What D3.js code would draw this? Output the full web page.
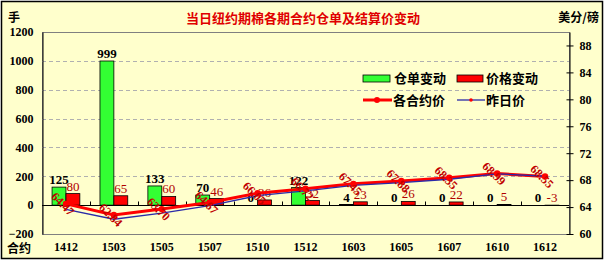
<!DOCTYPE html>
<html>
<head>
<meta charset="utf-8">
<script src="https://cdn.jsdelivr.net/npm/d3@7"></script>
<style>
  body { margin: 0; background: #fff; }
  svg { display: block; }
  .num { font-family: "Liberation Serif", serif; font-weight: bold; }
  .cjk { font-family: "Noto Sans CJK SC", sans-serif; font-weight: bold; }
</style>
</head>
<body>
<svg width="606" height="263"></svg>
<script>
// data
var categories = ['1412', '1503', '1505', '1507', '1510', '1512', '1603', '1605', '1607', '1610', '1612'];
var receiptChange = [125, 999, 133, 70, 0, 122, 4, 0, 0, 0, 0];          // 仓单变动 (手)
var priceChange = [80, 65, 60, 46, 36, 32, 23, 26, 22, 5, -3];           // 价格变动 (点)
var settlePrice = [64.47, 62.84, 63.70, 64.67, 66.05, 66.72, 67.45, 67.88, 68.35, 68.99, 68.55]; // 各合约价
var prevPrice = [63.67, 62.19, 63.10, 64.21, 65.69, 66.40, 67.22, 67.62, 68.13, 68.94, 68.58];   // 昨日价
var leftTicks = [-200, 0, 200, 400, 600, 800, 1000, 1200];
var rightTicks = [60, 64, 68, 72, 76, 80, 84, 88];

var svg = d3.select('svg'),
    plotLeft = 42, plotRight = 569, plotTop = 32, plotBottom = 234;

var x = d3.scaleBand().domain(categories).range([plotLeft, plotRight]).padding(0),
    xSub = d3.scaleBand().domain(['g', 'r']).range([x.bandwidth() * 0.21, x.bandwidth() * 0.79]),
    y = d3.scaleLinear().domain([-200, 1200]).range([plotBottom, plotTop]),
    y2 = d3.scaleLinear().domain([60, 90]).range([plotBottom, plotTop]);

// frame
svg.append('rect')
    .attr('x', 1.5).attr('y', 1.5).attr('width', 601).attr('height', 257)
    .attr('fill', '#ffffcc').attr('stroke', '#000').attr('stroke-width', 1.5);

// plot area
svg.append('rect')
    .attr('x', plotLeft + 0.5).attr('y', plotTop + 0.5)
    .attr('width', plotRight - plotLeft).attr('height', plotBottom - plotTop)
    .attr('fill', '#ffffcc').attr('stroke', '#808080').attr('stroke-width', 1);

// grid lines
svg.append('g')
    .selectAll('line')
    .data(leftTicks.filter(function(d) { return d > 0 && d < 1200; }))
    .enter().append('line')
    .attr('x1', plotLeft).attr('x2', plotRight)
    .attr('y1', function(d) { return Math.round(y(d)) + 0.5; })
    .attr('y2', function(d) { return Math.round(y(d)) + 0.5; })
    .attr('stroke', '#b0b0b0').attr('stroke-dasharray', '4,3');

// left axis
var gLeft = svg.append('g')
    .attr('transform', 'translate(' + (plotLeft + 0.5) + ',0)')
    .call(d3.axisLeft(y).tickValues(leftTicks).tickFormat(d3.format('d')).tickSize(0).tickPadding(9));
gLeft.select('.domain').attr('stroke', '#000');
gLeft.selectAll('text').attr('class', 'num').style('font-size', '12px').attr('fill', '#000');

// right axis
var gRight = svg.append('g')
    .attr('transform', 'translate(' + (plotRight + 0.5) + ',0)')
    .call(d3.axisRight(y2).tickValues(rightTicks).tickSizeInner(4).tickSizeOuter(0).tickPadding(6));
gRight.select('.domain').attr('stroke', '#000');
gRight.selectAll('.tick line').attr('x1', -3).attr('stroke', '#000');
gRight.selectAll('text').attr('class', 'num').style('font-size', '12px').attr('fill', '#000');

// category labels
var gBottom = svg.append('g')
    .attr('transform', 'translate(0,' + plotBottom + ')')
    .call(d3.axisBottom(x).tickSize(0).tickPadding(8));
gBottom.select('.domain').remove();
gBottom.selectAll('text').attr('class', 'num').style('font-size', '12px').attr('fill', '#000');

// bars
var bars = svg.append('g');
bars.selectAll('.green')
    .data(receiptChange)
    .enter().append('rect')
    .attr('x', function(d, i) { return x(categories[i]) + xSub('g'); })
    .attr('y', function(d) { return y(Math.max(0, d)); })
    .attr('width', xSub.bandwidth())
    .attr('height', function(d) { return Math.abs(y(d) - y(0)); })
    .attr('fill', '#33ff33').attr('stroke', '#000').attr('stroke-width', 0.8);

bars.selectAll('.red')
    .data(priceChange)
    .enter().append('rect')
    .attr('x', function(d, i) { return x(categories[i]) + xSub('r'); })
    .attr('y', function(d) { return y(Math.max(0, d)); })
    .attr('width', xSub.bandwidth())
    .attr('height', function(d) { return Math.abs(y(d) - y(0)); })
    .attr('fill', '#ff0000').attr('stroke', '#000').attr('stroke-width', 0.8);

// category axis line at zero
var zeroY = Math.round(y(0)) + 0.5;
svg.append('line')
    .attr('x1', plotLeft).attr('x2', plotRight).attr('y1', zeroY).attr('y2', zeroY)
    .attr('stroke', '#000');
svg.append('g')
    .selectAll('line')
    .data(categories.slice(1))
    .enter().append('line')
    .attr('x1', function(d) { return Math.round(x(d)) + 0.5; })
    .attr('x2', function(d) { return Math.round(x(d)) + 0.5; })
    .attr('y1', zeroY - 4).attr('y2', zeroY)
    .attr('stroke', '#000');

// bar labels
svg.append('g')
    .selectAll('text')
    .data(receiptChange)
    .enter().append('text')
    .attr('class', 'num')
    .attr('x', function(d, i) { return x(categories[i]) + xSub('g') + xSub.bandwidth() / 2; })
    .attr('y', function(d) { return y(Math.max(0, d)) - 3; })
    .attr('text-anchor', 'middle')
    .style('font-size', '13px')
    .attr('fill', '#000')
    .text(function(d) { return d; });

svg.append('g')
    .selectAll('text')
    .data(priceChange)
    .enter().append('text')
    .attr('x', function(d, i) { return x(categories[i]) + xSub('r') + xSub.bandwidth() / 2; })
    .attr('y', function(d) { return y(Math.max(0, d)) - 3; })
    .attr('text-anchor', 'middle')
    .style('font-family', '"Liberation Serif", serif')
    .style('font-size', '13px')
    .attr('fill', '#b00000')
    .text(function(d) { return d; });

// price lines
var line = d3.line()
    .x(function(d, i) { return x(categories[i]) + x.bandwidth() / 2; })
    .y(function(d) { return y2(d); });

svg.append('path')
    .datum(settlePrice)
    .attr('d', line)
    .attr('fill', 'none').attr('stroke', '#ff0000').attr('stroke-width', 3);

svg.append('path')
    .datum(prevPrice)
    .attr('d', line)
    .attr('fill', 'none').attr('stroke', '#2a2aa8').attr('stroke-width', 1.3);

svg.append('g')
    .selectAll('circle')
    .data(settlePrice)
    .enter().append('circle')
    .attr('cx', function(d, i) { return x(categories[i]) + x.bandwidth() / 2; })
    .attr('cy', function(d) { return y2(d); })
    .attr('r', 3.2)
    .attr('fill', '#ff0000');

// rotated price labels
svg.append('g')
    .selectAll('text')
    .data(settlePrice)
    .enter().append('text')
    .attr('transform', function(d, i) {
      return 'translate(' + (x(categories[i]) + x.bandwidth() / 2 - 3) + ',' + y2(d) + ') rotate(45)';
    })
    .attr('text-anchor', 'middle')
    .attr('dy', '0.35em')
    .style('font-family', '"Liberation Serif", serif')
    .style('font-weight', 'bold')
    .style('font-size', '12px')
    .attr('fill', '#c00000')
    .text(function(d) { return d.toFixed(2); });

// legend
var legend = svg.append('g').attr('class', 'cjk').style('font-size', '13px');
legend.append('rect').attr('x', 363).attr('y', 75).attr('width', 27).attr('height', 7)
    .attr('fill', '#33ff33').attr('stroke', '#000').attr('stroke-width', 0.8);
legend.append('text').attr('x', 394).attr('y', 83).text('仓单变动');
legend.append('rect').attr('x', 457).attr('y', 75).attr('width', 26).attr('height', 7)
    .attr('fill', '#ff0000').attr('stroke', '#000').attr('stroke-width', 0.8);
legend.append('text').attr('x', 486).attr('y', 83).text('价格变动');
legend.append('line').attr('x1', 363).attr('x2', 392).attr('y1', 100).attr('y2', 100)
    .attr('stroke', '#ff0000').attr('stroke-width', 3);
legend.append('circle').attr('cx', 377).attr('cy', 100).attr('r', 3).attr('fill', '#ff0000');
legend.append('text').attr('x', 393).attr('y', 105).text('各合约价');
legend.append('line').attr('x1', 457).attr('x2', 485).attr('y1', 100).attr('y2', 100)
    .attr('stroke', '#2a2aa8').attr('stroke-width', 1.3);
legend.append('circle').attr('cx', 471).attr('cy', 100).attr('r', 1.8).attr('fill', '#ff0000');
legend.append('text').attr('x', 486).attr('y', 105).text('昨日价');

// titles
svg.append('text')
    .attr('class', 'cjk')
    .attr('x', 303).attr('y', 23)
    .attr('text-anchor', 'middle')
    .style('font-size', '13px')
    .attr('fill', '#e00000')
    .text('当日纽约期棉各期合约仓单及结算价变动');

svg.append('text').attr('class', 'cjk').attr('x', 8).attr('y', 22)
    .style('font-size', '12px').text('手');
svg.append('text').attr('class', 'cjk').attr('x', 599).attr('y', 22)
    .attr('text-anchor', 'end').style('font-size', '12px').text('美分/磅');
svg.append('text').attr('class', 'cjk').attr('x', 7).attr('y', 253)
    .style('font-size', '12px').text('合约');
</script>
</body>
</html>
